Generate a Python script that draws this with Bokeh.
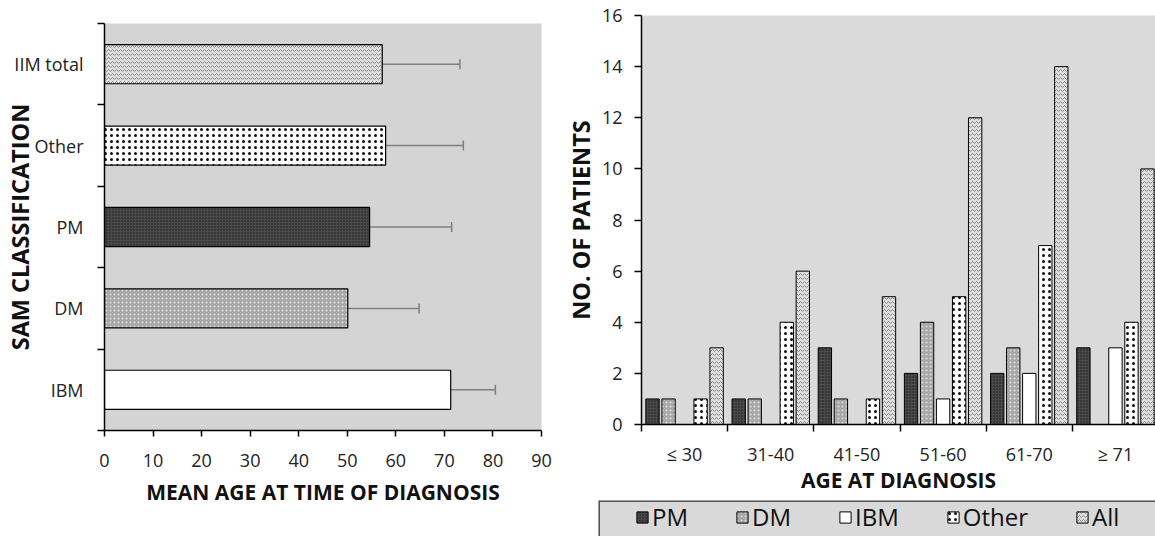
import math
from bokeh.plotting import figure
from bokeh.models import (FixedTicker, Whisker, ColumnDataSource, Legend, LegendItem,
                          TeeHead, Range1d, Span)
from bokeh.layouts import row, column
from bokeh.embed import file_html
from bokeh.resources import INLINE

# ---------------- data ----------------
sam_classes = ["IBM", "DM", "PM", "Other", "IIM total"]      # bottom to top
mean_age = [71.3, 50.1, 54.6, 57.9, 57.2]
sd_age = [9.2, 14.7, 16.9, 16.0, 16.0]

age_groups = ["≤ 30", "31-40", "41-50", "51-60", "61-70", "≥ 71"]
series_names = ["PM", "DM", "IBM", "Other", "All"]
pm = [1, 1, 3, 2, 2, 3]
dm = [1, 1, 1, 4, 3, 0]
ibm = [0, 0, 0, 1, 2, 3]
other = [1, 4, 1, 5, 7, 4]
all_patients = [3, 6, 5, 12, 14, 10]
series_values = [pm, dm, ibm, other, all_patients]

FONT = "Open Sans"

STYLES = {
    "PM": dict(fill_color="#4a4a4a", hatch_pattern="dot", hatch_color="#1a1a1a", hatch_scale=3, hatch_weight=1),
    "DM": dict(fill_color="#a6a6a6", hatch_pattern="dot", hatch_color="#dedede", hatch_scale=4, hatch_weight=1),
    "IBM": dict(fill_color="#ffffff"),
    "Other": dict(fill_color="#ffffff", hatch_pattern="dot", hatch_color="#111111", hatch_scale=6, hatch_weight=2.3),
    "All": dict(fill_color="#dedede", hatch_pattern="horizontal_wave", hatch_color="#8a8a8a", hatch_scale=4, hatch_weight=1),
}
STYLES["IIM total"] = STYLES["All"]


def style_axis(ax, title_size="21px"):
    ax.axis_line_color = "black"
    ax.axis_line_width = 1.5
    ax.major_tick_line_color = "black"
    ax.major_tick_line_width = 1.5
    ax.minor_tick_line_color = "black"
    ax.minor_tick_line_width = 1.5
    ax.major_label_text_font = FONT
    ax.major_label_text_font_size = "18px"
    ax.major_label_text_color = "#222222"
    ax.axis_label_text_font = FONT
    ax.axis_label_text_font_style = "bold"
    ax.axis_label_text_font_size = title_size
    ax.axis_label_text_color = "#111111"


# ---------------- left chart ----------------
p1 = figure(frame_width=437, frame_height=407, min_border_left=104, min_border_right=19,
            min_border_top=23, min_border_bottom=106,
            x_range=Range1d(0, 90), y_range=Range1d(0, 5),
            output_backend="svg", toolbar_location=None)
p1.background_fill_color = "#d4d4d4"
p1.border_fill_color = "white"
p1.outline_line_color = None
p1.grid.visible = False

for i, name in enumerate(sam_classes):
    src = ColumnDataSource(dict(y=[i + 0.5], right=[mean_age[i]]))
    p1.hbar(y="y", right="right", left=0, height=0.48, source=src,
            line_color="black", line_width=1.2, **STYLES[name])

err_src = ColumnDataSource(dict(
    y=[i + 0.5 for i in range(len(sam_classes))],
    lower=[m - s for m, s in zip(mean_age, sd_age)],
    upper=[m + s for m, s in zip(mean_age, sd_age)],
))
p1.add_layout(Whisker(base="y", lower="lower", upper="upper", dimension="width", source=err_src,
                      line_color="#7f7f7f", line_width=1.5,
                      upper_head=TeeHead(size=10, line_color="#7f7f7f", line_width=1.5),
                      lower_head=TeeHead(size=10, line_color="#7f7f7f", line_width=1.5)))

p1.xaxis.ticker = FixedTicker(ticks=list(range(0, 91, 10)))
p1.xaxis.major_tick_out = 6
p1.xaxis.major_tick_in = 0
p1.xaxis.major_label_standoff = 17
p1.xaxis.axis_label = "MEAN AGE AT TIME OF DIAGNOSIS"
p1.xaxis.axis_label_standoff = 8

p1.yaxis.ticker = FixedTicker(ticks=[i + 0.5 for i in range(5)], minor_ticks=list(range(6)))
p1.yaxis.major_label_overrides = {i + 0.5: n for i, n in enumerate(sam_classes)}
p1.yaxis.major_tick_out = 0
p1.yaxis.major_tick_in = 0
p1.yaxis.minor_tick_out = 7
p1.yaxis.minor_tick_in = 0
p1.yaxis.major_label_standoff = 14
p1.yaxis.axis_label = "SAM CLASSIFICATION"
p1.yaxis.axis_label_standoff = -25
style_axis(p1.xaxis)
style_axis(p1.yaxis, "23.5px")

# ---------------- right chart ----------------
p2 = figure(frame_width=514, frame_height=409, min_border_left=81, min_border_right=0,
            min_border_top=15, min_border_bottom=76,
            x_range=Range1d(0, 5.965), y_range=Range1d(0, 16),
            output_backend="svg", toolbar_location=None)
p2.background_fill_color = "#dadada"
p2.border_fill_color = "white"
p2.outline_line_color = None
p2.grid.visible = False

pitch = 0.186
for k, name in enumerate(series_names):
    xs = [i + 0.5 + (k - 2) * pitch for i in range(len(age_groups))]
    src = ColumnDataSource(dict(x=xs, top=series_values[k]))
    p2.vbar(x="x", top="top", bottom=0, width=0.155, source=src,
            line_color="black", line_width=1.0, **STYLES[name])

p2.xaxis.ticker = FixedTicker(ticks=[i + 0.5 for i in range(6)], minor_ticks=list(range(7)))
p2.xaxis.major_label_overrides = {i + 0.5: g for i, g in enumerate(age_groups)}
p2.xaxis.major_tick_out = 0
p2.xaxis.major_tick_in = 0
p2.xaxis.minor_tick_out = 7
p2.xaxis.minor_tick_in = 0
p2.xaxis.major_label_standoff = 10
p2.xaxis.axis_label = "AGE AT DIAGNOSIS"
p2.xaxis.axis_label_standoff = -3

p2.yaxis.ticker = FixedTicker(ticks=list(range(0, 17, 2)))
p2.yaxis.major_tick_out = 7
p2.yaxis.major_tick_in = 0
p2.yaxis.major_label_standoff = 12
p2.yaxis.axis_label = "NO. OF PATIENTS"
p2.yaxis.axis_label_standoff = 2
style_axis(p2.xaxis)
style_axis(p2.yaxis, "23.5px")

# ---------------- legend strip ----------------
p3 = figure(frame_width=557, frame_height=36, min_border_left=38, min_border_right=0,
            min_border_top=0, min_border_bottom=0,
            x_range=Range1d(0, 1), y_range=Range1d(0, 1),
            x_axis_location=None, y_axis_location=None,
            output_backend="svg", toolbar_location=None)
p3.background_fill_color = "#d9d9d9"
p3.border_fill_color = "white"
p3.outline_line_color = None
p3.grid.visible = False
p3.add_layout(Span(location=1, dimension="width", line_color="#555555", line_width=3))
p3.add_layout(Span(location=0, dimension="height", line_color="#555555", line_width=3))

items = []
for name in series_names:
    # swatch-only renderer placed outside the visible range; it only feeds the legend
    r = p3.vbar(x=[10], top=[1], bottom=0, width=0.1, line_color="black", line_width=1.0, **STYLES[name])
    items.append(LegendItem(label=name, renderers=[r]))

legend = Legend(items=items, location=(37, 3), orientation="horizontal",
                background_fill_alpha=0, border_line_alpha=0,
                label_text_font=FONT, label_text_font_size="24px", label_text_color="#111111",
                glyph_width=14, glyph_height=14, spacing=47, label_standoff=3,
                padding=0, margin=0)
p3.add_layout(legend, "center")

layout = row(p1, column(p2, row(p3)))
open("out.html", "w").write(file_html(layout, INLINE))
